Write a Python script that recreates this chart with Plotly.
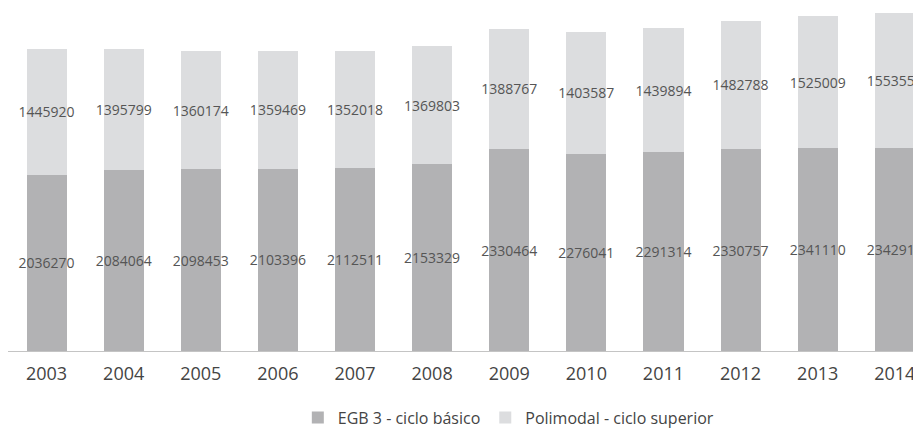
import plotly.graph_objects as go

# Enrollment by cycle, 2003-2014
years = ["2003", "2004", "2005", "2006", "2007", "2008",
         "2009", "2010", "2011", "2012", "2013", "2014"]
egb3 = [2036270, 2084064, 2098453, 2103396, 2112511, 2153329,
        2330464, 2276041, 2291314, 2330757, 2341110, 2342915]
polimodal = [1445920, 1395799, 1360174, 1359469, 1352018, 1369803,
             1388767, 1403587, 1439894, 1482788, 1525009, 1553552]

FONT = "Open Sans, Liberation Sans, sans-serif"

fig = go.Figure()
fig.add_trace(go.Bar(
    x=years, y=egb3, name="EGB 3 - ciclo básico",
    marker_color="#b2b2b4", marker_line_width=0,
    text=[str(v) for v in egb3], textposition="inside",
    insidetextanchor="middle", textangle=0, constraintext="none",
    textfont=dict(family=FONT, size=14, color="#555555"),
))
fig.add_trace(go.Bar(
    x=years, y=polimodal, name="Polimodal - ciclo superior",
    marker_color="#dcdddf", marker_line_width=0,
    text=[str(v) for v in polimodal], textposition="inside",
    insidetextanchor="middle", textangle=0, constraintext="none",
    textfont=dict(family=FONT, size=14, color="#555555"),
))

# page body has an 8px margin, so the figure is sized to the visible area
fig.update_layout(
    width=913, height=427,
    barmode="stack", bargap=0.48,
    plot_bgcolor="white", paper_bgcolor="white",
    margin=dict(l=0, r=0, t=2, b=81),
    font=dict(family=FONT, color="#444444"),
    showlegend=True,
    legend=dict(
        orientation="h", traceorder="normal",
        x=0.548, xanchor="center", y=-0.195, yanchor="middle",
        font=dict(size=16, color="#444444"),
        itemwidth=30,
    ),
)
fig.update_xaxes(
    range=[-0.5, 11.34], showgrid=False, automargin=False,
    showline=True, linecolor="#c4c4c4", linewidth=1,
    ticks="", ticklabelstandoff=6,
    tickfont=dict(size=18, color="#444444"),
)
fig.update_yaxes(
    range=[0, 3935000], visible=False, showgrid=False,
)

fig.write_html("out.html")
